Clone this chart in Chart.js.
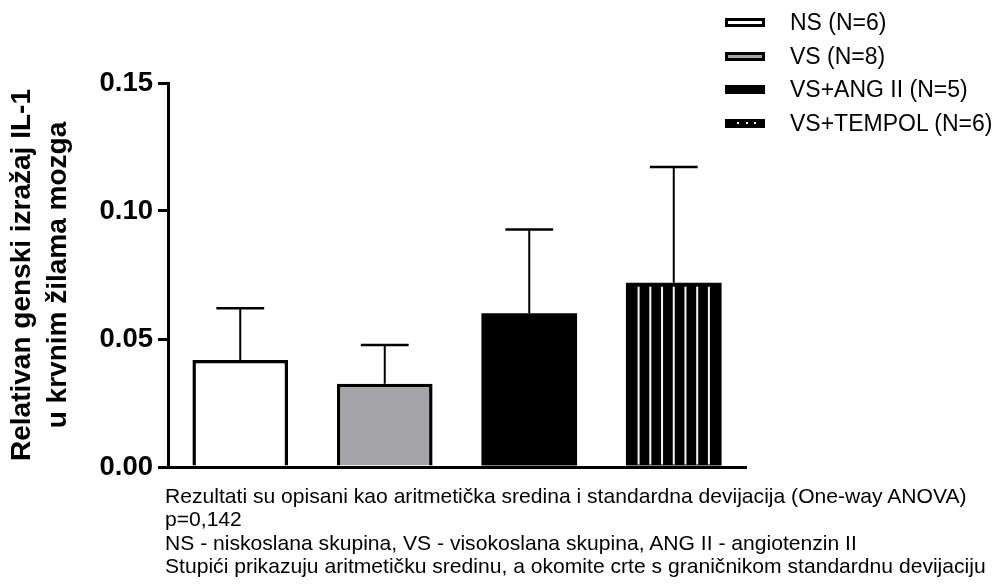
<!DOCTYPE html>
<html><head><meta charset="utf-8">
<script src="https://cdn.jsdelivr.net/npm/chart.js@4.4.1/dist/chart.umd.min.js"></script>
<style>
html,body{margin:0;padding:0;background:#fff;}
#wrap{position:relative;width:997px;height:584px;overflow:hidden;font-family:"Liberation Sans",Arial,sans-serif;background:#fff;}
#c{position:absolute;left:0;top:0;}
#legend{position:absolute;left:725px;top:6px;}
.row{display:flex;align-items:center;height:33.5px;}
.sym{width:40px;height:9px;box-sizing:border-box;border:3px solid #000;position:relative;}
.dot{position:absolute;top:0.5px;width:2px;height:2px;background:#fff;}
.lab{margin-left:25px;font-size:23px;color:#000;white-space:nowrap;}
#note{position:absolute;left:165px;top:484px;font-size:21.1px;line-height:23.4px;color:#000;white-space:nowrap;}
</style></head>
<body><div id="wrap"><canvas id="c" width="997" height="584"></canvas><div id="legend"></div><div id="note"></div></div>
<script>
const categories = ['NS (N=6)', 'VS (N=8)', 'VS+ANG II (N=5)', 'VS+TEMPOL (N=6)'];
const means = [0.0418, 0.0325, 0.0601, 0.0720];
const sds = [0.0202, 0.0152, 0.0327, 0.0452];
const yTicks = [0, 0.05, 0.10, 0.15];
const axisTitle = ['Relativan genski izražaj IL-1', 'u krvnim žilama mozga'];
const notes = [
  'Rezultati su opisani kao aritmetička sredina i standardna devijacija (One-way ANOVA)',
  'p=0,142',
  'NS - niskoslana skupina, VS - visokoslana skupina, ANG II - angiotenzin II',
  'Stupići prikazuju aritmetičku sredinu, a okomite crte s graničnikom standardnu devijaciju'
];

const FONT = '"Liberation Sans", Arial, sans-serif';
const fills = ['#ffffff', '#a5a5a9', '#000000', '#000000'];
const borders = [3.5, 3.5, 0, 0];
const striped = [false, false, false, true];

// legend (HTML)
const lg = document.getElementById('legend');
categories.forEach((c, i) => {
  const row = document.createElement('div'); row.className = 'row';
  const s = document.createElement('div'); s.className = 'sym'; s.style.background = fills[i];
  if (striped[i]) {
    [9, 17.5, 26].forEach(l => { const d = document.createElement('span'); d.className = 'dot'; d.style.left = l + 'px'; s.appendChild(d); });
  }
  const t = document.createElement('span'); t.className = 'lab'; t.textContent = c;
  row.appendChild(s); row.appendChild(t); lg.appendChild(row);
});
const nt = document.getElementById('note');
notes.forEach(n => { const d = document.createElement('div'); d.textContent = n; nt.appendChild(d); });

const stripePlugin = {
  id: 'stripes',
  afterDatasetsDraw(chart) {
    const ctx = chart.ctx; const meta = chart.getDatasetMeta(0);
    meta.data.forEach((el, i) => {
      if (!striped[i]) return;
      const p = el.getProps(['x', 'y', 'base', 'width'], true);
      const step = p.width * 0.1225;
      ctx.save(); ctx.strokeStyle = '#f4f4f4'; ctx.lineWidth = 2;
      for (let k = -3; k <= 3; k++) {
        const sx = p.x + k * step;
        ctx.beginPath(); ctx.moveTo(sx, p.y + 4); ctx.lineTo(sx, p.base - 1); ctx.stroke();
      }
      ctx.restore();
    });
  }
};
const errPlugin = {
  id: 'errbars',
  afterDatasetsDraw(chart) {
    const ctx = chart.ctx, ys = chart.scales.y, meta = chart.getDatasetMeta(0);
    meta.data.forEach((el, i) => {
      const p = el.getProps(['x', 'y', 'width'], true);
      const top = ys.getPixelForValue(means[i] + sds[i]);
      const cap = p.width * 0.5;
      ctx.save(); ctx.strokeStyle = '#000'; ctx.lineWidth = 2;
      ctx.beginPath(); ctx.moveTo(p.x, p.y); ctx.lineTo(p.x, top); ctx.stroke();
      ctx.lineWidth = 2.5;
      ctx.beginPath(); ctx.moveTo(p.x - cap / 2, top); ctx.lineTo(p.x + cap / 2, top); ctx.stroke();
      ctx.restore();
    });
  }
};

new Chart(document.getElementById('c'), {
  type: 'bar',
  data: {
    labels: categories,
    datasets: [{
      data: means,
      backgroundColor: fills,
      borderColor: '#000',
      borderWidth: borders,
      barPercentage: 0.662,
      categoryPercentage: 1
    }]
  },
  options: {
    responsive: false,
    animation: false,
    layout: { padding: { left: 0, top: 83, right: 251, bottom: 117 } },
    plugins: { legend: { display: false }, tooltip: { enabled: false } },
    scales: {
      x: {
        z: 1,
        grid: { display: false },
        ticks: { display: false },
        border: { display: true, color: '#000', width: 3 },
        afterFit: s => { s.height = 0; }
      },
      y: {
        min: 0, max: 0.15,
        afterBuildTicks: s => { s.ticks = yTicks.map(v => ({ value: v })); },
        afterFit: s => { s.width = 168; },
        ticks: {
          color: '#000', padding: 5,
          font: { family: FONT, size: 27.5, weight: 'bold' },
          callback: v => Number(v).toFixed(2)
        },
        grid: { display: true, drawOnChartArea: false, drawTicks: true, tickLength: 10, color: '#000', lineWidth: 3 },
        border: { display: true, color: '#000', width: 3 },
        title: {
          display: true, text: axisTitle, color: '#000',
          font: { family: FONT, size: 28, weight: 'bold', lineHeight: 36 / 28 },
          padding: { top: 4, bottom: 0 }
        }
      }
    }
  },
  plugins: [stripePlugin, errPlugin]
});
</script>
</body></html>
